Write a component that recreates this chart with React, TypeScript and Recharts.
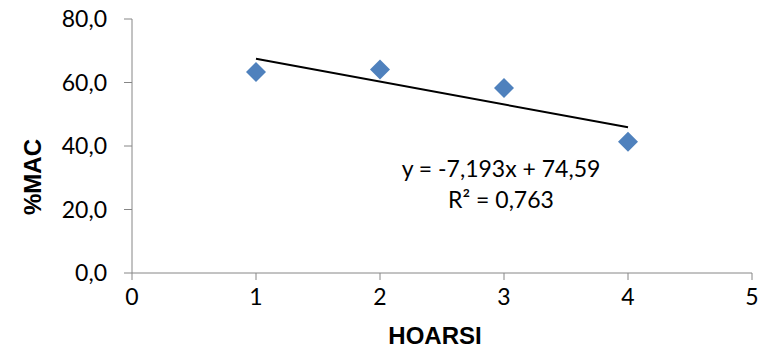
import React from 'react';
import { ScatterChart, Scatter, XAxis, YAxis } from 'recharts';

const hoarsi = [1, 2, 3, 4];
const mac = [63.3, 64.1, 58.3, 41.3];
const trendX = [1, 4];
const trendY = [67.5, 45.9];
const xTicks = [0, 1, 2, 3, 4, 5];
const yTicks = [0, 20, 40, 60, 80];

const points = hoarsi.map((x, i) => ({ x, y: mac[i] }));
const trend = trendX.map((x, i) => ({ x, y: trendY[i] }));

const AXIS = '#868686';
const tickFont = { fontFamily: 'Lato, sans-serif', fontSize: 23, fill: '#000' };
const titleFont = { fontFamily: '"Liberation Sans", Arial, sans-serif', fontSize: 24, fontWeight: 'bold', fill: '#000' };

const Diamond = (props: any) => {
  const { cx, cy } = props;
  const r = 10;
  return (
    <polygon
      points={`${cx},${cy - r} ${cx + r},${cy} ${cx},${cy + r} ${cx - r},${cy}`}
      fill="#4F81BD"
    />
  );
};

export default function App() {
  return (
    <div style={{ position: 'absolute', left: 0, top: 0, width: 763, height: 350, background: '#fff' }}>
      <ScatterChart width={763} height={350} margin={{ top: 19, right: 11, bottom: 0, left: 0 }}>
        <XAxis
          type="number"
          dataKey="x"
          domain={[0, 5]}
          ticks={xTicks}
          stroke={AXIS}
          tickSize={7}
          tickMargin={9}
          height={77}
          tick={tickFont}
          tickLine={{ stroke: AXIS }}
          label={{
            content: () => (
              <text x={435} y={344} textAnchor="middle" {...titleFont}>
                HOARSI
              </text>
            ),
          }}
        />
        <YAxis
          type="number"
          dataKey="y"
          domain={[0, 80]}
          ticks={yTicks}
          stroke={AXIS}
          tickSize={8}
          tickMargin={17}
          width={132}
          tick={tickFont}
          tickLine={{ stroke: AXIS }}
          tickFormatter={(v: number) => v.toFixed(1).replace('.', ',')}
          label={{
            content: () => (
              <text x={41} y={177} textAnchor="middle" transform="rotate(-90 41 177)" {...titleFont}>
                %MAC
              </text>
            ),
          }}
        />
        <Scatter data={trend} line={{ stroke: '#000', strokeWidth: 2 }} shape={() => null} isAnimationActive={false} />
        <Scatter data={points} shape={<Diamond />} isAnimationActive={false} />
      </ScatterChart>
      <div
        style={{
          position: 'absolute',
          left: 380,
          top: 153,
          width: 242,
          textAlign: 'center',
          fontFamily: 'Lato, sans-serif',
          fontSize: 23,
          lineHeight: '31px',
          color: '#000',
        }}
      >
        <div>y = -7,193x + 74,59</div>
        <div>R² = 0,763</div>
      </div>
    </div>
  );
}
